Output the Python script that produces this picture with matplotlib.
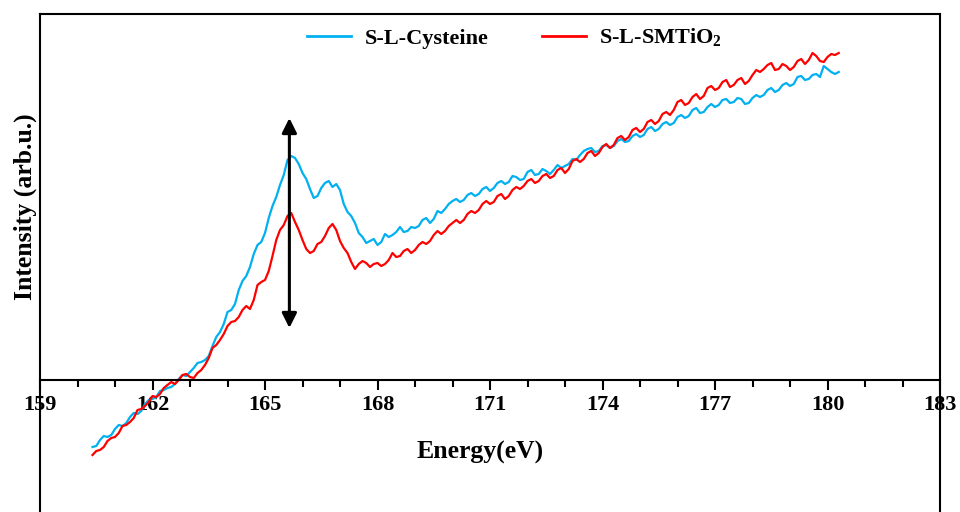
import matplotlib
matplotlib.use("Agg")
import matplotlib.pyplot as plt
from matplotlib.ticker import MultipleLocator

plt.rcParams['font.family'] = ['Liberation Serif', 'DejaVu Serif']
plt.rcParams['mathtext.fontset'] = 'custom'
plt.rcParams['mathtext.rm'] = 'Liberation Serif'
plt.rcParams['mathtext.bf'] = 'Liberation Serif:bold'

energy = [160.4, 160.5, 160.6, 160.7, 160.8, 160.9, 161.0, 161.1, 161.2, 161.3,
          161.4, 161.5, 161.6, 161.7, 161.8, 161.9, 162.0, 162.1, 162.2, 162.3,
          162.4, 162.5, 162.6, 162.7, 162.8, 162.9, 163.0, 163.1, 163.2, 163.3,
          163.4, 163.5, 163.6, 163.7, 163.8, 163.9, 164.0, 164.1, 164.2, 164.3,
          164.4, 164.5, 164.6, 164.7, 164.8, 164.9, 165.0, 165.1, 165.2, 165.3,
          165.4, 165.5, 165.6, 165.7, 165.8, 165.9, 166.0, 166.1, 166.2, 166.3,
          166.4, 166.5, 166.6, 166.7, 166.8, 166.9, 167.0, 167.1, 167.2, 167.3,
          167.4, 167.5, 167.6, 167.7, 167.8, 167.9, 168.0, 168.1, 168.2, 168.3,
          168.4, 168.5, 168.6, 168.7, 168.8, 168.9, 169.0, 169.1, 169.2, 169.3,
          169.4, 169.5, 169.6, 169.7, 169.8, 169.9, 170.0, 170.1, 170.2, 170.3,
          170.4, 170.5, 170.6, 170.7, 170.8, 170.9, 171.0, 171.1, 171.2, 171.3,
          171.4, 171.5, 171.6, 171.7, 171.8, 171.9, 172.0, 172.1, 172.2, 172.3,
          172.4, 172.5, 172.6, 172.7, 172.8, 172.9, 173.0, 173.1, 173.2, 173.3,
          173.4, 173.5, 173.6, 173.7, 173.8, 173.9, 174.0, 174.1, 174.2, 174.3,
          174.4, 174.5, 174.6, 174.7, 174.8, 174.9, 175.0, 175.1, 175.2, 175.3,
          175.4, 175.5, 175.6, 175.7, 175.8, 175.9, 176.0, 176.1, 176.2, 176.3,
          176.4, 176.5, 176.6, 176.7, 176.8, 176.9, 177.0, 177.1, 177.2, 177.3,
          177.4, 177.5, 177.6, 177.7, 177.8, 177.9, 178.0, 178.1, 178.2, 178.3,
          178.4, 178.5, 178.6, 178.7, 178.8, 178.9, 179.0, 179.1, 179.2, 179.3,
          179.4, 179.5, 179.6, 179.7, 179.8, 179.9, 180.0, 180.1, 180.2, 180.3]

cysteine = [-67, -66, -60, -56, -57, -55, -49, -45, -46, -43,
            -37, -33, -34, -31, -24, -20, -19, -17, -11, -10,
            -8, -7, -4, 1, 5, 4, 8, 12, 17, 18,
            20, 24, 34, 43, 48, 56, 68, 70, 76, 90,
            99, 104, 113, 126, 135, 138, 147, 162, 174, 183,
            195, 205, 220, 224, 222, 216, 207, 201, 191, 182,
            184, 192, 197, 199, 193, 196, 190, 176, 168, 164,
            157, 147, 143, 137, 139, 141, 135, 138, 146, 143,
            145, 148, 153, 148, 149, 153, 152, 154, 160, 162,
            157, 161, 169, 167, 171, 176, 179, 181, 178, 180,
            185, 187, 184, 186, 191, 193, 189, 192, 197, 199,
            196, 198, 204, 203, 200, 201, 208, 210, 205, 206,
            211, 209, 206, 210, 215, 212, 214, 216, 221, 220,
            225, 229, 231, 232, 228, 229, 234, 235, 232, 234,
            239, 241, 238, 239, 244, 246, 243, 245, 251, 253,
            249, 251, 256, 258, 255, 257, 263, 265, 262, 264,
            270, 272, 267, 268, 273, 276, 273, 275, 280, 281,
            277, 278, 282, 281, 276, 277, 282, 285, 283, 285,
            290, 292, 288, 290, 295, 297, 294, 296, 303, 304,
            300, 301, 305, 306, 303, 314, 311, 308, 306, 308]

smtio2 = [-75, -71, -70, -67, -61, -58, -57, -53, -46, -45,
          -42, -38, -30, -29, -26, -22, -16, -17, -14, -8,
          -5, -2, -4, 0, 5, 6, 3, 2, 7, 10,
          15, 22, 32, 35, 40, 46, 54, 58, 59, 63,
          70, 74, 71, 80, 95, 98, 100, 109, 124, 140,
          150, 155, 164, 167, 158, 150, 140, 131, 127, 129,
          136, 138, 144, 152, 156, 150, 139, 132, 127, 118,
          111, 116, 119, 117, 113, 116, 117, 114, 116, 120,
          127, 123, 124, 129, 131, 127, 130, 135, 138, 136,
          139, 145, 149, 146, 149, 154, 157, 160, 157, 160,
          166, 169, 167, 170, 176, 179, 176, 178, 184, 186,
          181, 184, 190, 193, 191, 194, 199, 201, 197, 199,
          204, 206, 202, 204, 210, 212, 207, 211, 219, 221,
          218, 221, 227, 229, 224, 227, 233, 236, 232, 235,
          242, 244, 240, 243, 250, 252, 248, 251, 258, 260,
          256, 259, 266, 268, 265, 270, 278, 280, 275, 277,
          283, 286, 281, 284, 292, 294, 290, 292, 298, 300,
          293, 295, 300, 302, 296, 299, 305, 310, 308, 311,
          315, 317, 310, 311, 316, 314, 310, 313, 319, 321,
          316, 320, 327, 324, 319, 318, 323, 326, 325, 327]

xticks = [159, 162, 165, 168, 171, 174, 177, 180, 183]
series_labels = ['S-L-Cysteine', r'S-L-SMTiO$_\mathbf{2}$']
arrow_x = 165.65
arrow_y = (52, 262)

fig = plt.figure(figsize=(9.6, 5.12), dpi=100)
ax = fig.add_axes([40/960, (512-600)/512, 900/960, 586/512])

ax.plot(energy, cysteine, color='#00B0F0', lw=1.6, label=series_labels[0])
ax.plot(energy, smtio2, color='#FF0000', lw=1.6, label=series_labels[1])

ax.annotate('', xy=(arrow_x, arrow_y[1]), xytext=(arrow_x, arrow_y[0]),
            arrowprops=dict(arrowstyle='<|-|>', lw=2.2, color='black',
                            mutation_scale=22, shrinkA=0, shrinkB=0))

ax.set_xlim(159, 183)
ax.set_ylim(-220, 366)
ax.set_xticks(xticks)
ax.xaxis.set_minor_locator(MultipleLocator(1))
ax.set_yticks([])
ax.spines['bottom'].set_position(('data', 0))
for s in ax.spines.values():
    s.set_linewidth(1.5)
ax.tick_params(axis='x', which='major', direction='out', length=7, width=1.5,
               pad=4, labelsize=16)
ax.tick_params(axis='x', which='minor', direction='out', length=5, width=1.5)
for t in ax.get_xticklabels():
    t.set_fontweight('bold')

fig.text(480/960, 1-452/512, 'Energy(eV)', ha='center', va='center',
         fontsize=18.5, fontweight='bold')
fig.text(25/960, 1-207/512, 'Intensity (arb.u.)', ha='center', va='center',
         rotation=90, fontsize=18.5, fontweight='bold')

leg = ax.legend(loc='center', bbox_to_anchor=((514.5-40)/900, (600-38)/586),
                ncol=2, frameon=False, handlelength=2.0, handletextpad=0.6,
                columnspacing=2.4, prop={'size': 16, 'weight': 'bold'})
for l in leg.get_lines():
    l.set_linewidth(2)

fig.savefig('out.png', dpi=100)
